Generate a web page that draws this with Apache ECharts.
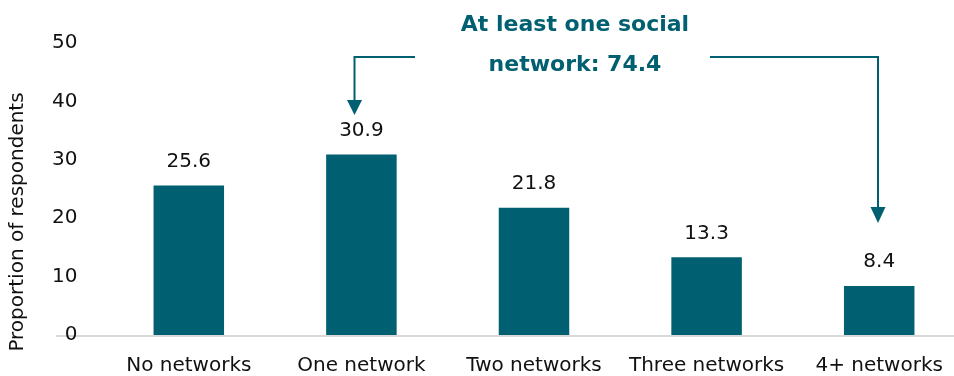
<!DOCTYPE html>
<html><head><meta charset="utf-8">
<script src="https://cdn.jsdelivr.net/npm/echarts@6/dist/echarts.min.js"></script>
<style>html,body{margin:0;padding:0;background:#fff;overflow:hidden}#c{width:966px;height:376px}</style>
</head><body><div id="c"></div>
<script>
const categories = ['No networks','One network','Two networks','Three networks','4+ networks'];
const values = [25.6, 30.9, 21.8, 13.3, 8.4];
const yTicks = [0, 10, 20, 30, 40, 50];
const annotationLines = ['At least one social', 'network: 74.4'];
const yName = 'Proportion of respondents';

const teal = '#005F70';
const font = 'DejaVu Sans';
const chart = echarts.init(document.getElementById('c'));
chart.setOption({
  animation: false,
  grid: {left: 102.5, right: 0.5, top: 43, bottom: 41, containLabel: false},
  xAxis: {
    type: 'category', data: categories,
    axisLine: {show: false},
    axisTick: {show: false},
    axisLabel: {color: '#111', fontFamily: font, fontSize: 20, margin: 21, interval: 0}
  },
  yAxis: {
    type: 'value', min: yTicks[0], max: yTicks[yTicks.length-1], interval: 10,
    splitLine: {show: false}, axisLine: {show: false}, axisTick: {show: false},
    axisLabel: {color: '#111', fontFamily: font, fontSize: 20, margin: 25}
  },
  series: [{
    type: 'bar', data: values, barWidth: 70.5,
    itemStyle: {color: teal},
    label: {show: true, position: 'top', distance: 14, color: '#111', fontFamily: font, fontSize: 20, formatter: p => p.value.toFixed(1)}
  }]
});
const y0 = chart.convertToPixel({yAxisIndex: 0}, 0);
const ann = {fill: teal, fontFamily: 'DejaVu Sans', fontWeight: 'bold', fontSize: 22, textAlign: 'center', textVerticalAlign: 'middle'};
chart.setOption({graphic: [
  {type: 'line', shape: {x1: 56, y1: y0 + 1, x2: 966, y2: y0 + 1}, style: {stroke: '#d9d9d9', lineWidth: 2}, z: 0},
  {type: 'text', x: 18, y: 222, rotation: Math.PI/2, style: {text: yName, fill: '#111', fontFamily: font, fontSize: 20, textAlign: 'center', textVerticalAlign: 'middle'}},
  {type: 'text', x: 575, y: 25, style: Object.assign({text: annotationLines[0]}, ann)},
  {type: 'text', x: 575, y: 65, style: Object.assign({text: annotationLines[1]}, ann)},
  {type: 'polyline', shape: {points: [[415, 57], [354.5, 57], [354.5, 102]]}, style: {stroke: teal, lineWidth: 2, fill: null}},
  {type: 'polygon', shape: {points: [[347, 100], [362, 100], [354.5, 115]]}, style: {fill: teal}},
  {type: 'polyline', shape: {points: [[710, 57], [878, 57], [878, 209]]}, style: {stroke: teal, lineWidth: 2, fill: null}},
  {type: 'polygon', shape: {points: [[870.5, 207], [885.5, 207], [878, 223]]}, style: {fill: teal}}
]});
</script></body></html>
